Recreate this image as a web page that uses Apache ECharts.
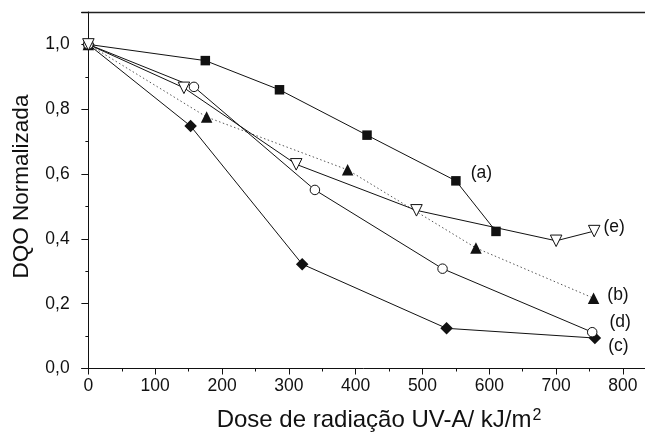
<!DOCTYPE html>
<html><head><meta charset="utf-8">
<script src="https://cdn.jsdelivr.net/npm/echarts@6/dist/echarts.min.js"></script>
<style>html,body{margin:0;padding:0;background:#fff}#c{width:645px;height:435px}</style>
</head><body><div id="c"></div>
<script>
// ---- data ----
const seriesLabels = ['(a)', '(b)', '(c)', '(d)', '(e)'];
const doseA = [0, 175, 286, 417, 550, 610];
const dqoA  = [1.0, 0.950, 0.860, 0.720, 0.579, 0.423];
const doseB = [0, 177, 388, 580, 756];
const dqoB  = [1.0, 0.776, 0.613, 0.372, 0.217];
const doseC = [0, 153, 320, 536, 758];
const dqoC  = [1.0, 0.748, 0.322, 0.124, 0.094];
const doseD = [0, 158, 339, 530, 754];
const dqoD  = [1.0, 0.869, 0.551, 0.308, 0.112];
const doseE = [0, 143, 311, 491, 700, 757];
const dqoE  = [1.0, 0.866, 0.630, 0.488, 0.394, 0.424];
const xTicks = [0, 100, 200, 300, 400, 500, 600, 700, 800];
const xMinorTicks = [50, 150, 250, 350, 450, 550, 650, 750];
const yTicks = [0, 0.2, 0.4, 0.6, 0.8, 1.0];
const xTitle = 'Dose de radiação UV-A/ kJ/m';
const xTitleSup = '2';
const yTitle = 'DQO Normalizada';

// ---- styling ----
const FONT = "'Liberation Sans', Arial, Helvetica, sans-serif";
const labelPlacement = [
  { idx: 4, distance: 10, offset: [0, -8] },   // (a)
  { idx: -1, distance: 8, offset: [0, -3] },   // (b)
  { idx: -1, distance: 7, offset: [0, 8] },    // (c)
  { idx: -1, distance: 12, offset: [0, -10] }, // (d)
  { idx: -1, distance: 3, offset: [0, -4] }    // (e)
];

function build(xs, ys, k) {
  const p = labelPlacement[k];
  const li = p.idx < 0 ? xs.length - 1 : p.idx;
  return xs.map((x, i) => {
    const item = { value: [x, ys[i]] };
    if (i === li) {
      item.label = {
        show: true, formatter: seriesLabels[k], position: 'right',
        distance: p.distance, offset: p.offset,
        fontSize: 17.5, fontFamily: FONT, color: '#111'
      };
    }
    return item;
  });
}

const black = '#111';
const base = (name, data, symbol, size, fill, extra) => Object.assign({
  type: 'line', name, data, symbol, symbolSize: size,
  xAxisIndex: 0, yAxisIndex: 0,
  showAllSymbol: true, animation: false,
  lineStyle: { color: black, width: 1 },
  itemStyle: { color: fill, borderColor: black, borderWidth: fill === '#fff' ? 1 : 0 },
  emphasis: { disabled: true },
  z: 3
}, extra || {});

const chart = echarts.init(document.getElementById('c'), null, { renderer: 'canvas' });
chart.setOption({
  animation: false,
  backgroundColor: '#fff',
  grid: { left: 81.7, right: 0, top: 12, bottom: 66.5, containLabel: false },
  xAxis: [
    {
      type: 'value', min: -10, max: 833, position: 'bottom',
      axisLine: { show: true, lineStyle: { color: black, width: 1 } },
      axisTick: { show: true, inside: false, length: 6, customValues: xTicks, lineStyle: { color: black } },
      axisLabel: { show: true, customValues: xTicks, fontSize: 17.5, fontFamily: FONT, color: '#111', margin: 9 },
      splitLine: { show: false }
    },
    {
      type: 'value', min: -10, max: 833, position: 'bottom',
      axisLine: { show: false },
      axisTick: { show: true, inside: false, length: 3, customValues: xMinorTicks, lineStyle: { color: black } },
      axisLabel: { show: false },
      splitLine: { show: false }
    },
    {
      type: 'value', min: -10, max: 833, position: 'top',
      axisLine: { show: true, lineStyle: { color: '#222', width: 1.3 } },
      axisTick: { show: false }, axisLabel: { show: false }, splitLine: { show: false }
    }
  ],
  yAxis: [
    {
      type: 'value', min: 0, max: 1.1, interval: 0.2,
      axisLine: { show: true, lineStyle: { color: black, width: 1 } },
      axisTick: { show: true, inside: false, length: 7, lineStyle: { color: black } },
      minorTick: { show: true, splitNumber: 2, length: 3, lineStyle: { color: black } },
      axisLabel: {
        fontSize: 17.5, fontFamily: FONT, color: '#111', margin: 12,
        formatter: v => (yTicks.some(t => Math.abs(t - v) < 1e-6) ? v.toFixed(1).replace('.', ',') : '')
      },
      splitLine: { show: false }, minorSplitLine: { show: false }
    }
  ],
  graphic: [
    {
      type: 'text', x: 379, y: 420, z: 10,
      style: {
        text: '{t|' + xTitle + '}{s|' + xTitleSup + '}',
        align: 'center', verticalAlign: 'middle',
        rich: {
          t: { fontSize: 24, fontFamily: FONT, fill: '#111', verticalAlign: 'bottom' },
          s: { fontSize: 16, fontFamily: FONT, fill: '#111', verticalAlign: 'bottom', padding: [0, 0, 9, 1] }
        }
      }
    },
    {
      type: 'text', x: 22, y: 186.5, rotation: Math.PI / 2, z: 10,
      style: {
        text: yTitle, align: 'center', verticalAlign: 'middle',
        fontSize: 22.5, fontFamily: FONT, fill: '#111'
      }
    }
  ],
  series: [
    base('(a)', build(doseA, dqoA, 0), 'rect', 9.5, black),
    base('(b)', build(doseB, dqoB, 1), 'triangle', 11.5, black,
      { lineStyle: { color: '#555', width: 1, type: [1.5, 2.5] } }),
    base('(c)', build(doseC, dqoC, 2), 'diamond', 12.5, black),
    base('(d)', build(doseD, dqoD, 3), 'circle', 9.5, '#fff'),
    base('(e)', build(doseE, dqoE, 4), 'triangle', 11.5, '#fff', { symbolRotate: 180 })
  ]
});
</script>
</body></html>
